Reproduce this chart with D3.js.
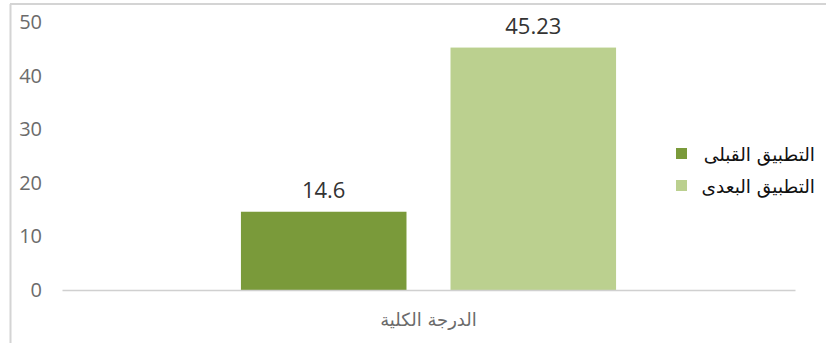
<!DOCTYPE html>
<html>
<head>
<meta charset="utf-8">
<script src="https://cdn.jsdelivr.net/npm/d3@7"></script>
<style>
  html, body { margin: 0; padding: 0; background: #fff; }
  svg { display: block; }
</style>
</head>
<body>
<svg id="chart" width="826" height="343"></svg>
<script>
// Chart data
const categories = ["الدرجة الكلية"];
const seriesNames = ["التطبيق القبلى", "التطبيق البعدى"];
const seriesValues = [[14.6], [45.23]];
const seriesColors = ["#7A9A3A", "#BBD08F"];
const yTicks = [0, 10, 20, 30, 40, 50];

const svg = d3.select("#chart");
const W = 826, H = 343;

// Chart frame (top and left edges)
svg.append("line").attr("x1", 10).attr("x2", W).attr("y1", 4).attr("y2", 4)
  .attr("stroke", "#d4d4d4").attr("stroke-width", 2);
svg.append("line").attr("x1", 10.5).attr("x2", 10.5).attr("y1", 4).attr("y2", H)
  .attr("stroke", "#d4d4d4").attr("stroke-width", 2);

const plot = { left: 62, right: 795, top: 22, bottom: 290 };

const y = d3.scaleLinear().domain([0, 50]).range([plot.bottom, plot.top]);
const x0 = d3.scaleBand().domain(categories).range([plot.left, plot.right]).paddingInner(0).paddingOuter(0.477);
const x1 = d3.scaleBand().domain(seriesNames).range([0, x0.bandwidth()]).paddingInner(0.21);

// Y axis tick labels
const yAxis = d3.axisLeft(y).tickValues(yTicks).tickSize(0).tickPadding(0).tickFormat(d3.format("d"));
const ya = svg.append("g").attr("transform", `translate(42,0)`).call(yAxis);
ya.select(".domain").remove();
ya.selectAll("text")
  .attr("font-family", "Open Sans, Liberation Sans, sans-serif")
  .attr("font-size", 20).attr("fill", "#6b6b6b");

// Bars
const groups = svg.append("g").selectAll("g").data(categories).join("g")
  .attr("transform", c => `translate(${x0(c)},0)`);

seriesNames.forEach((s, i) => {
  groups.append("rect")
    .attr("x", x1(s))
    .attr("width", x1.bandwidth())
    .attr("y", (c, ci) => y(seriesValues[i][ci]))
    .attr("height", (c, ci) => y(0) - y(seriesValues[i][ci]))
    .attr("fill", seriesColors[i]);
  groups.append("text")
    .attr("x", x1(s) + x1.bandwidth() / 2)
    .attr("y", (c, ci) => y(seriesValues[i][ci]) - 14)
    .attr("text-anchor", "middle")
    .attr("font-family", "Open Sans, Liberation Sans, sans-serif")
    .attr("font-size", 22)
    .attr("fill", "#333")
    .text((c, ci) => seriesValues[i][ci]);
});

// Baseline / category axis
const xAxis = d3.axisBottom(x0).tickSize(0).tickPadding(0);
const xa = svg.append("g").attr("transform", `translate(0,${plot.bottom})`).call(xAxis);
xa.select(".domain").attr("stroke", "#d0d0d0").attr("stroke-width", 1.5);
xa.selectAll("text")
  .attr("dy", 0).attr("y", 36)
  .attr("font-family", "DejaVu Sans, sans-serif")
  .attr("font-size", 18).attr("fill", "#6b6b6b");

// Legend
const legend = svg.append("g");
seriesNames.forEach((s, i) => {
  const ly = 154 + i * 32;
  legend.append("rect").attr("x", 676).attr("y", ly - 6).attr("width", 11).attr("height", 11)
    .attr("fill", seriesColors[i]);
  legend.append("text").attr("x", 815).attr("y", ly + 7)
    .attr("text-anchor", "end")
    .attr("font-family", "DejaVu Sans, sans-serif")
    .attr("font-size", 18.5).attr("fill", "#111")
    .text(s);
});
</script>
</body>
</html>
